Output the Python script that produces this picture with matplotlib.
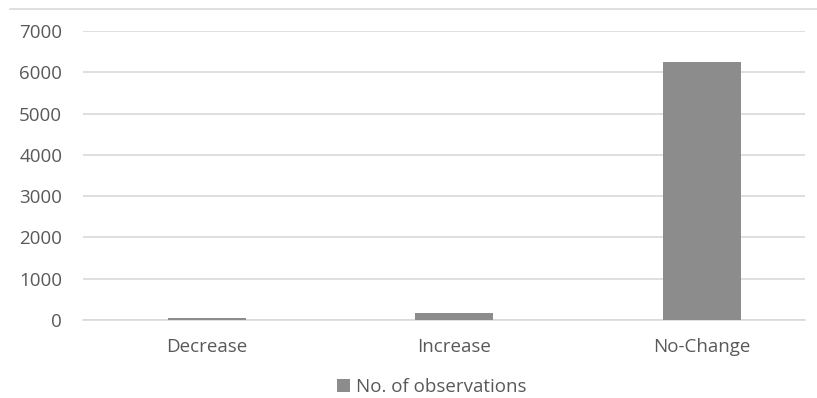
import matplotlib.pyplot as plt
from matplotlib.lines import Line2D

categories = ["Decrease", "Increase", "No-Change"]
observations = [40, 170, 6250]
y_ticks = [0, 1000, 2000, 3000, 4000, 5000, 6000, 7000]

BAR_COLOR = "#8c8c8c"
TEXT_COLOR = "#595959"
GRID_COLOR = "#d9d9d9"

plt.rcParams["font.family"] = ["Open Sans", "DejaVu Sans"]

fig = plt.figure(figsize=(8.17, 3.98), dpi=100)
ax = fig.add_axes([0.1016, 0.196, 0.8834, 0.726])

x = range(len(categories))
ax.bar(x, observations, width=0.315, color=BAR_COLOR, zorder=3,
       label="No. of observations")

ax.set_xlim(-0.5, 2.416)
ax.set_ylim(0, 7000)
ax.set_yticks(y_ticks)
ax.set_xticks(list(x))
ax.set_xticklabels(categories)
ax.yaxis.grid(True, color=GRID_COLOR, linewidth=1.2, zorder=0)
ax.tick_params(axis="both", length=0, labelsize=13.5, colors=TEXT_COLOR)
ax.tick_params(axis="y", pad=15)
ax.tick_params(axis="x", pad=13)
for side in ["top", "right", "left"]:
    ax.spines[side].set_visible(False)
ax.spines["bottom"].set_color(GRID_COLOR)
ax.spines["bottom"].set_linewidth(1.2)

fig.legend(loc="center", bbox_to_anchor=(0.528, 0.028), frameon=False,
           handlelength=0.7, handleheight=0.7, handletextpad=0.3,
           fontsize=13.5, labelcolor=TEXT_COLOR)

# outer chart border along the top
fig.add_artist(Line2D([0.012, 1.0], [0.978, 0.978], color=GRID_COLOR,
                      linewidth=1.2, transform=fig.transFigure))

fig.savefig("out.png", dpi=100)
